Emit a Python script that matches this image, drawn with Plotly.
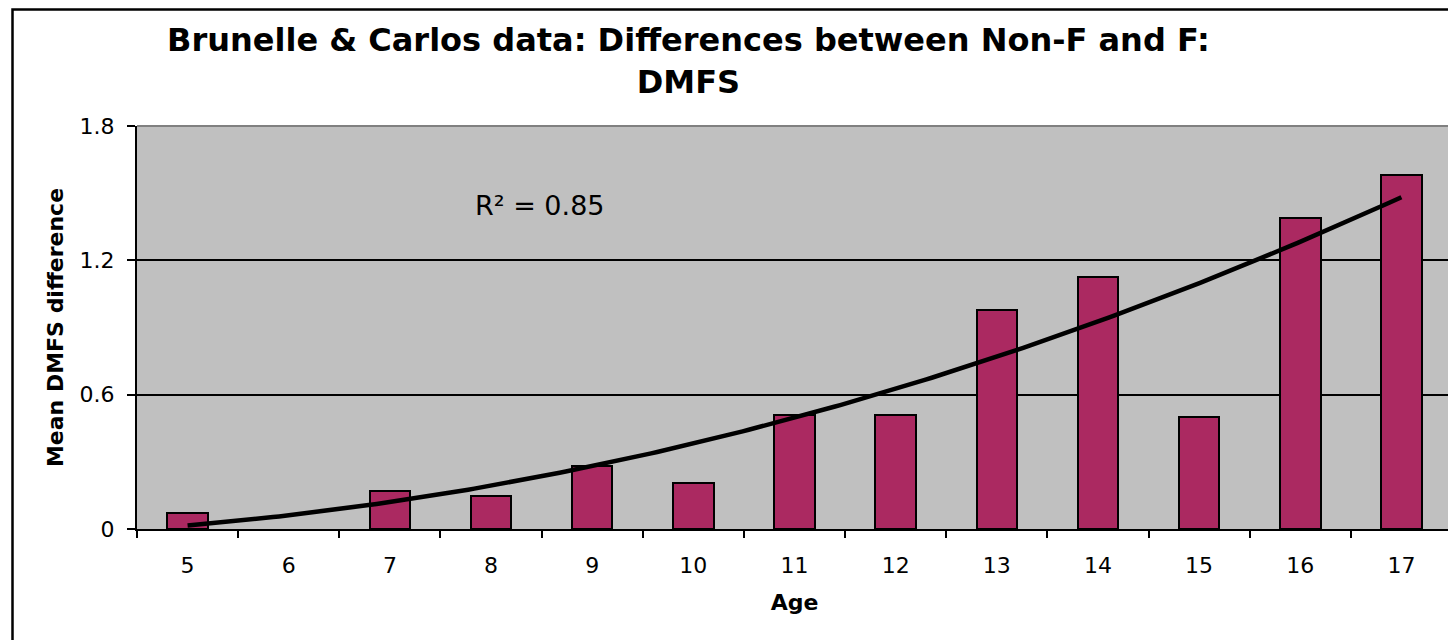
import numpy as np
import plotly.graph_objects as go

ages = [5, 6, 7, 8, 9, 10, 11, 12, 13, 14, 15, 16, 17]
mean_diff = [0.070, None, 0.168, 0.149, 0.280, 0.207, 0.509, 0.509, 0.980, 1.127, 0.499, 1.389, 1.580]
# polynomial (order 2) trend line: values at three ages
trend_ages = [5, 11, 17]
trend_vals = [0.016, 0.497, 1.482]
y_ticks = [0, 0.6, 1.2, 1.8]
y_tick_text = ["0", "0.6", "1.2", "1.8"]
title_text = "Brunelle & Carlos data: Differences between Non-F and F:<br>DMFS"
r2_text = "R² = 0.85"

coef = np.polyfit(trend_ages, trend_vals, 2)
xt = np.linspace(trend_ages[0], trend_ages[-1], 200)
yt = np.polyval(coef, xt)

FONT = "DejaVu Sans"
BAR = "#AB2961"

# page has an 8px body margin; screen coords -> figure coords
W, H = 1448, 632
PL, PT, PR, PB = 137, 126, 1452, 529   # plot area in screen px
PW, PH = PR - PL, PB - PT


def px(x):
    return (x - PL) / PW


def py(y):
    return 1 + (PT - y) / PH


fig = go.Figure()
fig.add_trace(go.Bar(x=ages, y=mean_diff, width=0.4,
                     marker=dict(color=BAR, line=dict(color="black", width=2)),
                     showlegend=False, hoverinfo="x+y"))
fig.add_trace(go.Scatter(x=xt, y=yt, mode="lines", line=dict(color="black", width=4.5),
                         showlegend=False, hoverinfo="skip"))
fig.add_trace(go.Scatter(x=[ages[0]], y=[0], xaxis="x2", mode="markers",
                         marker=dict(opacity=0), showlegend=False, hoverinfo="skip"))

rng = [ages[0] - 0.5, ages[-1] + 0.5]
fig.update_layout(
    width=W, height=H,
    margin=dict(l=PL - 8, r=8 + W - PR, t=PT - 8, b=8 + H - PB),
    paper_bgcolor="white", plot_bgcolor="#C0C0C0",
    font=dict(family=FONT, color="black"),
    bargap=0,
    xaxis=dict(range=rng, tickvals=ages, ticktext=[str(a) for a in ages],
               ticks="", showgrid=False, zeroline=False, fixedrange=True,
               showline=True, linecolor="black", linewidth=2,
               tickfont=dict(size=22), ticklabelstandoff=16,
               title=dict(text="<b>Age</b>", font=dict(size=22), standoff=17)),
    xaxis2=dict(overlaying="x", side="bottom", range=rng,
                tickvals=[a + 0.5 for a in [ages[0] - 1] + ages],
                ticks="outside", ticklen=8, tickwidth=2, tickcolor="black",
                showticklabels=False, showgrid=False, zeroline=False, showline=False),
    yaxis=dict(range=[0, 1.8], tickvals=y_ticks, ticktext=y_tick_text,
               ticks="outside", ticklen=8, tickwidth=2, tickcolor="black",
               showgrid=True, gridcolor="black", gridwidth=1.5,
               zeroline=False, showline=True, linecolor="black", linewidth=2,
               tickfont=dict(size=22), ticklabelstandoff=8,
               title=dict(text="<b>Mean DMFS difference</b>", font=dict(size=22), standoff=10)),
    shapes=[
        dict(type="path", xref="paper", yref="paper", path="M 0,1 L 1,1 L 1,0",
             line=dict(color="#808080", width=2), layer="above"),
        dict(type="rect", xref="paper", yref="paper",
             x0=px(12.5), x1=px(1475), y0=py(660), y1=py(9.5),
             line=dict(color="black", width=2.5), layer="above"),
    ],
    annotations=[
        dict(text="<b>" + title_text + "</b>", x=px(688), y=py(19),
             xref="paper", yref="paper", xanchor="center", yanchor="top",
             showarrow=False, align="center",
             font=dict(size=32, family=FONT, color="black")),
        dict(text=r2_text, x=px(540), y=py(205), xref="paper", yref="paper",
             xanchor="center", yanchor="middle", showarrow=False,
             font=dict(size=27, family=FONT, color="black")),
    ],
)

fig.write_html("out.html")
